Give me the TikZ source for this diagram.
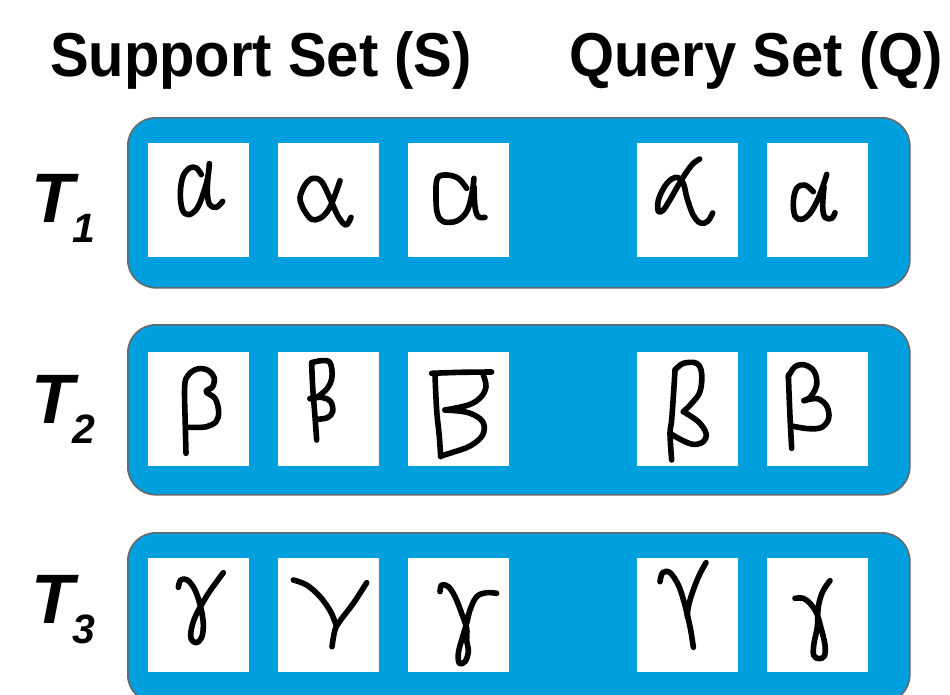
\documentclass[tikz,border=0pt]{standalone}
\usepackage{fontspec}
\setmainfont{Liberation Sans}
\newfontfamily\headfont[FakeStretch=0.935]{Liberation Sans}
\definecolor{panelblue}{RGB}{0,160,222}
\definecolor{paneledge}{RGB}{100,104,108}
\newcommand{\titlefont}{\headfont\fontsize{62}{62}\selectfont\bfseries}
\newcommand{\taskfont}{\fontsize{70}{70}\selectfont\bfseries\itshape}
\newcommand{\taskindexfont}{\fontsize{41}{41}\selectfont\bfseries\itshape}
\newcommand{\tasklabel}[1]{{\taskfont T}\kern-1pt\raisebox{-20pt}{\taskindexfont #1}}
\begin{document}
\begin{tikzpicture}[x=1pt,y=-1pt,
  panel/.style={draw=paneledge, fill=panelblue, line width=1.6pt,
    rounded corners=28pt, minimum width=782pt, minimum height=170pt,
    inner sep=0pt, anchor=north west},
  card/.style={fill=white, draw=none, minimum width=101pt,
    minimum height=114pt, inner sep=0pt, anchor=north west},
  pen/.style={line width=5.6pt, line cap=round, line join=round, black},
  heading/.style={anchor=base, inner sep=0pt, font=\titlefont},
  task/.style={anchor=base west, inner sep=0pt}]

\path[use as bounding box, clip] (0,0) rectangle (950,694);
\fill[white] (0,0) rectangle (950,694);

% column headings
\node[heading] (support) at (261,76) {Support Set (S)};
\node[heading] (query) at (756,76) {Query Set (Q)};

% task panels
\node[panel] (task1) at (127,117) {};
\node[panel] (task2) at (127,324) {};
\node[panel] (task3) at (127,532) {};

% task labels
\node[task] (t1) at (31,222) {\tasklabel{1}};
\node[task] (t2) at (31,423) {\tasklabel{2}};
\node[task] (t3) at (31,623) {\tasklabel{3}};

% sample cards: three support and two query per task
\foreach \r/\y in {1/143, 2/352, 3/558} {
  \node[card] (s\r a) at (148,\y) {};
  \node[card] (s\r b) at (278,\y) {};
  \node[card] (s\r c) at (408,\y) {};
  \node[card] (q\r a) at (637,\y) {};
  \node[card] (q\r b) at (767,\y) {};
}

% handwritten alpha, support
\begin{scope}[shift={(120,110)}, scale=1/3]
  \draw[pen] plot[smooth, tension=0.6] coordinates {(244,194) (229,174) (209,174) (189,199) (181,249) (187,299) (206,314) (232,294) (252,244) (264,199) (268,161)};
  \draw[pen] plot[smooth, tension=0.6] coordinates {(264,199) (262,249) (269,284) (289,292) (308,274)};
  \draw[pen] plot[smooth, tension=0.6] coordinates {(660,212) (645,255) (625,300) (600,325) (575,328) (555,305) (545,285) (540,262) (555,225) (578,205) (605,215) (630,265) (655,320) (678,345) (693,322)};
  \draw[pen] plot[smooth, tension=0.6] coordinates {(1040,235) (1015,205) (980,195) (952,205) (948,260) (952,310) (970,335) (1010,333) (1040,305) (1055,255) (1062,205)};
  \draw[pen] plot[smooth, tension=0.6] coordinates {(1062,230) (1065,290) (1075,320) (1095,322)};
\end{scope}

% handwritten alpha, query
\begin{scope}[shift={(637,143)}, scale=1/3]
  \draw[pen] plot[smooth, tension=0.6] coordinates {(188,48) (168,62) (148,88) (122,130) (98,172) (78,202) (64,205) (64,172) (82,132) (104,108) (124,104) (140,124) (150,165) (168,215) (190,240) (212,235) (227,210)};
\end{scope}
\begin{scope}[shift={(600,110)}, scale=1/3]
  \draw[pen] plot[smooth, tension=0.6] coordinates {(640,245) (615,225) (590,235) (580,275) (585,318) (605,328) (630,310) (655,265) (675,210) (680,193)};
  \draw[pen] plot[smooth, tension=0.6] coordinates {(672,230) (668,290) (675,322) (695,325) (705,308)};
\end{scope}

% handwritten beta, support
\begin{scope}[shift={(120,320)}, scale=1/3]
  \draw[pen] plot[smooth, tension=0.6] coordinates {(198,400) (196,320) (194,200) (205,165) (232,147) (262,150) (282,172) (278,200) (258,215) (285,235) (296,275) (288,305) (260,320) (225,322) (198,322)};
  \draw[pen] plot[smooth, tension=0.6] coordinates {(575,128) (578,200) (585,290) (590,360)};
  \draw[pen] plot[smooth, tension=0.6] coordinates {(575,128) (605,122) (630,128) (636,170) (622,205) (590,232) (570,236)};
  \draw[pen] plot[smooth, tension=0.6] coordinates {(570,236) (605,232) (632,245) (638,275) (622,293) (590,298)};
  \draw[pen] plot[smooth, tension=0.6] coordinates {(935,160) (1020,157) (1115,156)};
  \draw[pen] plot[smooth, tension=0.6] coordinates {(945,165) (950,270) (958,350) (962,410)};
  \draw[pen] plot[smooth, tension=0.6] coordinates {(1090,165) (1098,200) (1082,232) (1045,255) (975,270)};
  \draw[pen] plot[smooth, tension=0.6] coordinates {(975,270) (1045,278) (1088,305) (1088,345) (1050,378) (995,398) (962,408)};
\end{scope}

% handwritten beta, query
\begin{scope}[shift={(600,320)}, scale=1/3]
  \draw[pen] plot[smooth, tension=0.6] coordinates {(225,150) (222,200) (215,300) (210,340) (215,420)};
  \draw[pen] plot[smooth, tension=0.6] coordinates {(225,150) (250,130) (290,130) (305,160) (300,215) (275,250) (250,275)};
  \draw[pen] plot[smooth, tension=0.6] coordinates {(250,275) (295,305) (318,340) (310,365) (280,373) (245,360) (210,340)};
  \draw[pen] plot[smooth, tension=0.6] coordinates {(565,165) (570,290) (575,385)};
  \draw[pen] plot[smooth, tension=0.6] coordinates {(565,170) (585,140) (615,135) (643,155) (650,195) (632,230) (612,242)};
  \draw[pen] plot[smooth, tension=0.6] coordinates {(612,242) (652,236) (680,258) (686,295) (665,322) (625,326) (575,318)};
\end{scope}

% handwritten gamma, support
\begin{scope}[shift={(120,530)}, scale=1/3]
  \draw[pen] plot[smooth, tension=0.6] coordinates {(175,172) (182,150) (202,150) (225,180) (243,235) (250,285) (245,322) (230,338) (214,328) (214,298) (228,255) (262,195) (290,155) (310,128)};
  \draw[pen] plot[smooth, tension=0.6] coordinates {(520,150) (560,165) (600,200) (632,245) (648,285)};
  \draw[pen] plot[smooth, tension=0.6] coordinates {(740,158) (700,220) (662,270) (645,300) (636,350)};
  \draw[pen] plot[smooth, tension=0.6] coordinates {(960,185) (965,165) (985,170) (1005,200) (1025,250) (1040,295) (1040,330) (1045,365) (1035,395) (1018,400) (1015,370) (1025,330) (1040,280) (1050,240) (1070,200) (1100,188) (1130,190)};
\end{scope}

% handwritten gamma, query
\begin{scope}[shift={(600,530)}, scale=1/3]
  \draw[pen] plot[smooth, tension=0.6] coordinates {(180,155) (188,128) (210,128) (235,165) (252,215) (262,255) (272,300) (280,352)};
  \draw[pen] plot[smooth, tension=0.6] coordinates {(318,98) (298,135) (278,185) (265,230) (262,260)};
  \draw[pen] plot[smooth, tension=0.6] coordinates {(585,205) (610,205) (632,222) (650,250) (662,290) (675,345) (673,378) (657,386) (641,376) (642,340) (652,290) (655,230) (668,185) (690,152)};
\end{scope}

\end{tikzpicture}
\end{document}
